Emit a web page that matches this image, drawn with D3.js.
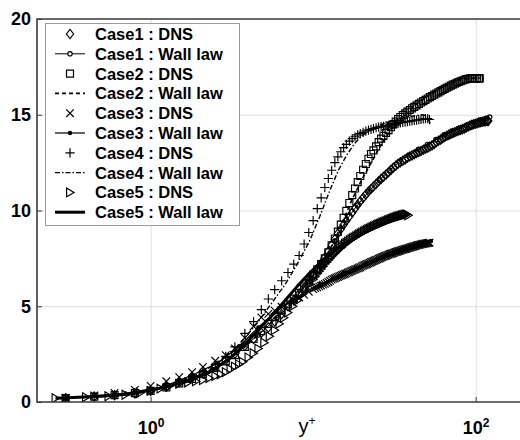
<!DOCTYPE html>
<html>
<head>
<meta charset="utf-8">
<script src="https://cdn.jsdelivr.net/npm/d3@7/dist/d3.min.js"></script>
<style>
  body { margin: 0; background: #fff; }
  svg { display: block; font-family: "Liberation Sans", Arial, Helvetica, sans-serif; }
</style>
</head>
<body>
<svg id="chart" width="520" height="440"></svg>
<script>
// ---- Mean velocity profiles u+ against y+ ----
const legendLabels = [
  "Case1 : DNS", "Case1 : Wall law",
  "Case2 : DNS", "Case2 : Wall law",
  "Case3 : DNS", "Case3 : Wall law",
  "Case4 : DNS", "Case4 : Wall law",
  "Case5 : DNS", "Case5 : Wall law"
];
const yTicks = [0, 5, 10, 15, 20];
const xTicks = [1, 100];
const xLabel = "y";

// Case 1
const case1DnsYp = [0.3, 0.45, 0.6, 0.8, 1.0, 1.25, 1.5, 1.8, 2.1, 2.5, 2.9, 3.3, 3.8, 4.3, 4.8, 5.3, 5.8, 6.4, 7.0, 7.6, 8.2, 8.8, 9.4, 10.0, 10.6, 11.2, 11.8, 12.4, 13.0, 13.6, 14.2, 14.8, 15.4, 16.0, 16.7, 17.4, 18.1, 18.8, 19.5, 20.3, 21.1, 21.9, 22.7, 23.5, 24.4, 25.3, 26.2, 27.1, 28.1, 29.1, 30.1, 31.1, 32.2, 33.3, 34.4, 35.6, 36.8, 38.0, 39.3, 40.6, 41.9, 43.3, 44.7, 46.1, 47.6, 49.1, 50.7, 52.3, 53.9, 55.6, 57.3, 59.0, 60.8, 62.6, 64.5, 66.4, 68.3, 70.3, 72.3, 74.4, 76.5, 78.6, 80.8, 83.0, 85.3, 87.6, 89.9, 92.3, 94.7, 97.1, 99.6, 102.1, 104.7, 107.3, 109.9, 112.6, 115.3, 118.0, 119.5];
const case1DnsU  = [0.2, 0.28, 0.35, 0.45, 0.57, 0.8, 1.03, 1.25, 1.49, 1.83, 2.18, 2.52, 2.93, 3.29, 3.61, 3.89, 4.2, 4.59, 5.0, 5.33, 5.65, 5.95, 6.28, 6.61, 6.94, 7.25, 7.55, 7.87, 8.2, 8.5, 8.8, 9.03, 9.26, 9.46, 9.69, 9.9, 10.11, 10.3, 10.48, 10.66, 10.83, 10.99, 11.12, 11.25, 11.39, 11.53, 11.65, 11.76, 11.88, 12.0, 12.12, 12.23, 12.34, 12.44, 12.52, 12.6, 12.67, 12.75, 12.82, 12.88, 12.94, 13.0, 13.06, 13.11, 13.17, 13.22, 13.28, 13.34, 13.4, 13.48, 13.56, 13.64, 13.7, 13.77, 13.84, 13.9, 13.95, 14.0, 14.05, 14.09, 14.14, 14.18, 14.21, 14.25, 14.29, 14.34, 14.39, 14.44, 14.47, 14.5, 14.53, 14.56, 14.59, 14.61, 14.63, 14.65, 14.66, 14.68, 14.68];
const case1WallYp = [0.3, 0.6, 1.0, 1.6, 2.4, 3.4, 4.6, 6.0, 7.6, 9.4, 11.4, 13.6, 16.0, 18.8, 22.0, 25.6, 29.6, 34.0, 39.0, 44.5, 50.5, 57.0, 64.0, 71.5, 79.5, 88.0, 97.0, 106.5, 116.0, 122.0];
const case1WallU  = [0.2, 0.36, 0.58, 1.1, 1.7, 2.6, 3.5, 4.4, 5.3, 6.3, 7.3, 8.4, 9.5, 10.3, 11.0, 11.6, 12.1, 12.55, 12.9, 13.2, 13.45, 13.7, 13.95, 14.15, 14.3, 14.45, 14.6, 14.72, 14.82, 14.88];

// Case 2
const case2DnsYp = [0.3, 0.45, 0.6, 0.8, 1.0, 1.25, 1.5, 1.8, 2.1, 2.5, 2.9, 3.3, 3.8, 4.3, 4.8, 5.3, 5.8, 6.4, 7.0, 7.6, 8.2, 8.8, 9.4, 10.0, 10.6, 11.2, 11.8, 12.4, 13.0, 13.6, 14.2, 14.8, 15.4, 16.0, 16.7, 17.4, 18.1, 18.8, 19.5, 20.3, 21.1, 21.9, 22.7, 23.5, 24.4, 25.3, 26.2, 27.1, 28.1, 29.1, 30.1, 31.1, 32.2, 33.3, 34.4, 35.6, 36.8, 38.0, 39.3, 40.6, 41.9, 43.3, 44.7, 46.1, 47.6, 49.1, 50.7, 52.3, 53.9, 55.6, 57.3, 59.0, 60.8, 62.6, 64.5, 66.4, 68.3, 70.3, 72.3, 74.4, 76.5, 78.6, 80.8, 83.0, 85.3, 87.6, 89.9, 92.3, 94.7, 97.1, 99.6, 102.1, 104.7, 106.0];
const case2DnsU  = [0.2, 0.28, 0.36, 0.46, 0.58, 0.76, 0.97, 1.21, 1.45, 1.79, 2.12, 2.45, 2.88, 3.3, 3.7, 4.08, 4.43, 4.8, 5.1, 5.4, 5.7, 6.03, 6.35, 6.65, 6.93, 7.2, 7.5, 7.82, 8.18, 8.54, 8.9, 9.26, 9.62, 9.98, 10.39, 10.8, 11.15, 11.48, 11.8, 12.13, 12.43, 12.7, 12.95, 13.14, 13.35, 13.57, 13.75, 13.9, 14.05, 14.2, 14.35, 14.5, 14.64, 14.77, 14.88, 14.98, 15.07, 15.16, 15.25, 15.33, 15.41, 15.49, 15.57, 15.64, 15.71, 15.78, 15.85, 15.92, 15.98, 16.05, 16.11, 16.17, 16.23, 16.29, 16.35, 16.41, 16.46, 16.52, 16.57, 16.62, 16.67, 16.71, 16.75, 16.79, 16.83, 16.86, 16.88, 16.9, 16.9, 16.9, 16.9, 16.9, 16.9, 16.9];
const case2WallYp = [0.3, 0.7, 1.2, 1.9, 2.8, 3.9, 5.2, 6.7, 8.4, 10.3, 12.4, 14.7, 17.2, 19.9, 22.8, 26.0, 29.5, 33.3, 37.4, 41.8, 46.6, 51.8, 57.4, 63.4, 69.8, 76.6, 83.8, 91.4, 99.0, 106.0];
const case2WallU  = [0.2, 0.4, 0.72, 1.3, 2.0, 2.95, 3.95, 4.85, 5.8, 6.75, 7.8, 9.1, 10.5, 11.6, 12.5, 13.4, 14.1, 14.7, 15.1, 15.45, 15.75, 16.05, 16.3, 16.5, 16.65, 16.78, 16.86, 16.9, 16.92, 16.92];

// Case 3
const case3DnsYp = [0.3, 0.45, 0.6, 0.8, 1.0, 1.25, 1.5, 1.8, 2.1, 2.5, 2.9, 3.3, 3.8, 4.3, 4.8, 5.3, 5.8, 6.4, 7.0, 7.6, 8.2, 8.8, 9.4, 10.0, 10.3, 10.6, 10.9, 11.2, 11.5, 11.8, 12.1, 12.4, 12.7, 13.0, 13.3, 13.6, 13.9, 14.2, 14.5, 14.8, 15.1, 15.4, 15.7, 16.0, 16.35, 16.7, 17.05, 17.4, 17.75, 18.1, 18.45, 18.8, 19.15, 19.5, 19.9, 20.3, 20.7, 21.1, 21.5, 21.9, 22.3, 22.7, 23.1, 23.5, 23.95, 24.4, 24.85, 25.3, 25.75, 26.2, 26.65, 27.1, 27.6, 28.1, 28.6, 29.1, 29.6, 30.1, 30.6, 31.1, 31.65, 32.2, 32.75, 33.3, 33.85, 34.4, 35.0, 35.6, 36.2, 36.8, 37.4, 38.0, 38.65, 39.3, 39.95, 40.6, 41.25, 41.9, 42.6, 43.3, 44.0, 44.7, 45.4, 46.1, 46.85, 47.6, 48.35, 49.1, 49.9, 50.7, 51.35, 52.0];
const case3DnsU  = [0.22, 0.34, 0.47, 0.63, 0.84, 1.08, 1.3, 1.56, 1.83, 2.15, 2.45, 2.8, 3.35, 3.95, 4.42, 4.6, 4.77, 4.97, 5.15, 5.31, 5.46, 5.6, 5.76, 5.9, 5.95, 5.99, 6.04, 6.08, 6.13, 6.17, 6.22, 6.27, 6.33, 6.39, 6.43, 6.46, 6.5, 6.53, 6.57, 6.6, 6.63, 6.66, 6.69, 6.72, 6.76, 6.79, 6.83, 6.86, 6.89, 6.92, 6.95, 6.98, 7.01, 7.04, 7.08, 7.12, 7.15, 7.18, 7.21, 7.24, 7.27, 7.3, 7.33, 7.36, 7.39, 7.42, 7.45, 7.48, 7.51, 7.54, 7.57, 7.59, 7.62, 7.64, 7.67, 7.7, 7.72, 7.74, 7.76, 7.78, 7.81, 7.83, 7.85, 7.87, 7.89, 7.91, 7.93, 7.95, 7.97, 7.99, 8.0, 8.02, 8.04, 8.06, 8.08, 8.1, 8.12, 8.13, 8.15, 8.17, 8.19, 8.2, 8.22, 8.23, 8.25, 8.26, 8.27, 8.28, 8.29, 8.3, 8.31, 8.32];
const case3WallYp = [0.3, 0.7, 1.2, 1.8, 2.6, 3.5, 4.6, 5.9, 7.4, 9.1, 11.0, 13.2, 15.6, 18.3, 21.3, 24.6, 28.2, 32.1, 36.3, 40.8, 45.6, 50.0, 53.0];
const case3WallU  = [0.2, 0.45, 0.8, 1.4, 2.05, 2.9, 3.9, 4.7, 5.3, 5.8, 6.15, 6.45, 6.75, 7.0, 7.25, 7.45, 7.65, 7.85, 8.0, 8.15, 8.28, 8.36, 8.4];

// Case 4
const case4DnsYp = [0.3, 0.45, 0.6, 0.8, 1.0, 1.25, 1.5, 1.8, 2.1, 2.5, 2.9, 3.3, 3.8, 4.3, 4.8, 5.3, 5.8, 6.4, 7.0, 7.6, 8.2, 8.8, 9.4, 10.0, 10.6, 11.2, 11.8, 12.4, 13.0, 13.6, 14.2, 14.8, 15.4, 16.0, 16.7, 17.4, 18.1, 18.8, 19.5, 20.3, 21.1, 21.9, 22.7, 23.5, 24.4, 25.3, 26.2, 27.1, 28.1, 29.1, 30.1, 31.1, 32.2, 33.3, 34.4, 35.6, 36.8, 38.0, 39.3, 40.6, 41.9, 43.3, 44.7, 46.1, 47.6, 49.1, 50.7, 52.0];
const case4DnsU  = [0.22, 0.3, 0.38, 0.46, 0.58, 0.8, 1.05, 1.33, 1.59, 1.95, 2.38, 2.88, 3.58, 4.2, 4.82, 5.38, 5.87, 6.33, 6.76, 7.2, 7.65, 8.25, 8.85, 9.47, 10.1, 10.66, 11.2, 11.67, 12.1, 12.5, 12.8, 13.07, 13.28, 13.45, 13.62, 13.75, 13.85, 13.95, 14.02, 14.08, 14.15, 14.2, 14.24, 14.28, 14.32, 14.35, 14.38, 14.4, 14.43, 14.45, 14.48, 14.5, 14.53, 14.55, 14.58, 14.6, 14.62, 14.64, 14.66, 14.68, 14.7, 14.72, 14.74, 14.76, 14.78, 14.8, 14.8, 14.75];
const case4WallYp = [0.3, 0.7, 1.2, 1.8, 2.6, 3.5, 4.5, 5.6, 6.8, 8.1, 9.5, 11.0, 12.6, 14.3, 16.1, 18.0, 20.0, 22.5, 25.5, 29.0, 33.0, 37.5, 42.0, 46.5, 50.0, 52.5];
const case4WallU  = [0.2, 0.45, 0.75, 1.3, 2.05, 3.0, 4.1, 5.2, 6.2, 7.3, 8.4, 9.7, 11.0, 12.1, 12.9, 13.5, 13.9, 14.2, 14.45, 14.62, 14.75, 14.86, 14.95, 15.0, 14.95, 14.55];

// Case 5
const case5DnsYp = [0.26, 0.4, 0.55, 0.7, 0.86, 1.0, 1.15, 1.3, 1.5, 1.7, 1.9, 2.1, 2.3, 2.5, 2.7, 2.9, 3.1, 3.3, 3.5, 3.7, 4.0, 4.3, 4.6, 5.0, 5.4, 5.8, 6.2, 6.6, 7.0, 7.5, 8.0, 8.5, 9.0, 9.5, 10.0, 10.3, 10.6, 10.9, 11.2, 11.5, 11.8, 12.1, 12.4, 12.7, 13.0, 13.3, 13.6, 13.95, 14.3, 14.65, 15.0, 15.35, 15.7, 16.05, 16.4, 16.8, 17.2, 17.6, 18.0, 18.4, 18.8, 19.2, 19.6, 20.05, 20.5, 20.95, 21.4, 21.85, 22.3, 22.75, 23.2, 23.7, 24.2, 24.7, 25.2, 25.7, 26.2, 26.7, 27.2, 27.75, 28.3, 28.85, 29.4, 29.95, 30.5, 31.05, 31.6, 32.2, 32.8, 33.4, 34.0, 34.6, 35.2, 35.8, 36.4, 37.05, 37.7, 38.5];
const case5DnsU  = [0.2, 0.25, 0.3, 0.38, 0.47, 0.58, 0.7, 0.82, 0.95, 1.02, 1.08, 1.15, 1.25, 1.35, 1.45, 1.56, 1.71, 1.85, 1.97, 2.1, 2.33, 2.55, 2.79, 3.1, 3.43, 3.75, 4.08, 4.4, 4.67, 5.0, 5.3, 5.6, 5.88, 6.15, 6.4, 6.55, 6.7, 6.83, 6.95, 7.08, 7.2, 7.3, 7.4, 7.5, 7.6, 7.69, 7.77, 7.86, 7.95, 8.03, 8.1, 8.18, 8.25, 8.31, 8.37, 8.44, 8.5, 8.55, 8.6, 8.65, 8.7, 8.75, 8.8, 8.85, 8.9, 8.94, 8.98, 9.02, 9.05, 9.09, 9.13, 9.17, 9.2, 9.24, 9.27, 9.3, 9.33, 9.36, 9.39, 9.42, 9.45, 9.48, 9.51, 9.54, 9.56, 9.59, 9.61, 9.64, 9.66, 9.68, 9.7, 9.72, 9.74, 9.76, 9.77, 9.79, 9.8, 9.75];
const case5WallYp = [0.26, 0.5, 0.8, 1.2, 1.7, 2.3, 3.0, 3.8, 4.7, 5.7, 6.8, 8.0, 9.3, 10.7, 12.2, 13.8, 15.5, 17.3, 19.3, 21.5, 23.9, 26.5, 29.3, 32.3, 35.5, 38.5];
const case5WallU  = [0.2, 0.3, 0.45, 0.75, 1.1, 1.55, 2.2, 3.0, 3.85, 4.6, 5.35, 6.05, 6.65, 7.15, 7.6, 7.95, 8.25, 8.5, 8.72, 8.92, 9.1, 9.27, 9.43, 9.58, 9.72, 9.85];

// ---- drawing ----
const svg = d3.select("#chart");
const x0 = 37, x1 = 524.6, yTop = 19, yBot = 402;
const x = d3.scaleLog().domain([0.2, 200]).range([x0, x1]);
const y = d3.scaleLinear().domain([0, 20]).range([yBot, yTop]);

const zip = (a, b) => a.map((v, i) => [v, b[i]]);

const markerPaths = {
  diamond: "M0,-4.6L3.6,0L0,4.6L-3.6,0Z",
  square: "M-3.5,-3.5H3.5V3.5H-3.5Z",
  cross: "M-3.8,-3.8L3.8,3.8M-3.8,3.8L3.8,-3.8",
  plus: "M-4.6,0H4.6M0,-4.6V4.6",
  triangle: "M-3.4,-4.4L4,0L-3.4,4.4Z",
  circle: "M2.2,0A2.2,2.2 0 1 1 -2.2,0A2.2,2.2 0 1 1 2.2,0Z",
  dot: "M1.6,0A1.6,1.6 0 1 1 -1.6,0A1.6,1.6 0 1 1 1.6,0Z"
};

const series = [
  { label: legendLabels[0], pts: zip(case1DnsYp, case1DnsU), marker: "diamond" },
  { label: legendLabels[1], pts: zip(case1WallYp, case1WallU), line: { w: 1 }, marker: "circle" },
  { label: legendLabels[2], pts: zip(case2DnsYp, case2DnsU), marker: "square" },
  { label: legendLabels[3], pts: zip(case2WallYp, case2WallU), line: { w: 1.6, dash: "4,3" } },
  { label: legendLabels[4], pts: zip(case3DnsYp, case3DnsU), marker: "cross" },
  { label: legendLabels[5], pts: zip(case3WallYp, case3WallU), line: { w: 1.2 }, marker: "dot" },
  { label: legendLabels[6], pts: zip(case4DnsYp, case4DnsU), marker: "plus" },
  { label: legendLabels[7], pts: zip(case4WallYp, case4WallU), line: { w: 1.4, dash: "5,2,1.5,2" } },
  { label: legendLabels[8], pts: zip(case5DnsYp, case5DnsU), marker: "triangle" },
  { label: legendLabels[9], pts: zip(case5WallYp, case5WallU), line: { w: 3 } }
];

// grid lines
svg.append("g")
  .attr("transform", `translate(${x0},0)`)
  .call(d3.axisLeft(y).tickValues([5, 10, 15]).tickSize(-(x1 - x0)).tickFormat(""))
  .call(g => g.select(".domain").remove())
  .call(g => g.selectAll("line").attr("stroke", "#dedede").attr("stroke-width", 1));
svg.append("g")
  .attr("transform", `translate(0,${yBot})`)
  .call(d3.axisBottom(x).tickValues(xTicks).tickSize(-(yBot - yTop)).tickFormat(""))
  .call(g => g.select(".domain").remove())
  .call(g => g.selectAll("line").attr("stroke", "#dedede").attr("stroke-width", 1));

// data
svg.append("clipPath").attr("id", "plotClip")
  .append("rect").attr("x", x0).attr("y", yTop).attr("width", x1 - x0).attr("height", yBot - yTop);
const dataG = svg.append("g").attr("clip-path", "url(#plotClip)");
const lineGen = d3.line().x(d => x(d[0])).y(d => y(d[1]));

series.filter(s => s.line).forEach(s => {
  dataG.append("path")
    .attr("d", lineGen(s.pts))
    .attr("fill", "none").attr("stroke", "#000")
    .attr("stroke-width", s.line.w)
    .attr("stroke-dasharray", s.line.dash || null)
    .attr("stroke-linejoin", "round");
});
series.filter(s => s.marker).forEach(s => {
  const filled = s.marker === "dot";
  dataG.append("g").selectAll("path").data(s.pts).join("path")
    .attr("transform", d => `translate(${x(d[0])},${y(d[1])})`)
    .attr("d", markerPaths[s.marker])
    .attr("fill", filled ? "#000" : "none")
    .attr("stroke", "#000").attr("stroke-width", 1.15);
});

// frame
svg.append("path")
  .attr("d", `M${x1},${yTop}H${x0}V${yBot}H${x1}`)
  .attr("fill", "none").attr("stroke", "#3a3a3a").attr("stroke-width", 1.6);

// y axis ticks + labels
svg.append("g")
  .attr("transform", `translate(${x0},0)`)
  .call(d3.axisLeft(y).tickValues(yTicks).tickSize(-5).tickPadding(6))
  .call(g => g.select(".domain").remove())
  .call(g => g.selectAll("line").attr("stroke", "#3a3a3a"))
  .call(g => g.selectAll("text")
    .attr("fill", "#000").attr("font-size", 18).attr("font-weight", "bold")
    .attr("font-family", "Liberation Sans, Arial, sans-serif"));

// x axis ticks + labels (powers of ten)
svg.append("g")
  .attr("transform", `translate(0,${yBot})`)
  .call(d3.axisBottom(x).tickValues(xTicks).tickSize(-5).tickPadding(19).tickFormat(() => ""))
  .call(g => g.select(".domain").remove())
  .call(g => g.selectAll("line").attr("stroke", "#3a3a3a"))
  .call(g => g.selectAll(".tick text")
    .attr("fill", "#000").attr("font-size", 18).attr("font-weight", "bold")
    .attr("font-family", "Liberation Sans, Arial, sans-serif")
    .each(function (d) {
      const t = d3.select(this);
      t.append("tspan").text("10");
      t.append("tspan").attr("dy", -7).attr("font-size", 12).text(Math.round(Math.log10(d)));
    }));

// x label
const xl = svg.append("text")
  .attr("x", 307).attr("y", 433)
  .attr("text-anchor", "middle")
  .attr("font-size", 20).attr("fill", "#000")
  .attr("font-family", "Liberation Sans, Arial, sans-serif");
xl.append("tspan").text(xLabel);
xl.append("tspan").attr("dy", -8).attr("font-size", 12).text("+");

// legend
const leg = svg.append("g");
leg.append("rect")
  .attr("x", 45.5).attr("y", 23.5).attr("width", 194).attr("height", 202)
  .attr("fill", "#fff").attr("stroke", "#9a9a9a").attr("stroke-width", 1);
series.forEach((s, i) => {
  const cy = 34 + i * 19.8;
  const row = leg.append("g").attr("transform", `translate(0,${cy})`);
  if (s.line) {
    row.append("line").attr("x1", 55).attr("x2", 85).attr("y1", 0).attr("y2", 0)
      .attr("stroke", "#000").attr("stroke-width", s.line.w)
      .attr("stroke-dasharray", s.line.dash || null);
  }
  if (s.marker) {
    row.append("path").attr("transform", "translate(70,0)")
      .attr("d", markerPaths[s.marker])
      .attr("fill", s.marker === "dot" ? "#000" : (s.marker === "circle" ? "#fff" : "none"))
      .attr("stroke", "#000").attr("stroke-width", 1.2);
  }
  row.append("text")
    .attr("x", 95).attr("y", 0).attr("dy", "0.36em")
    .attr("font-size", 16.5).attr("font-weight", "bold").attr("fill", "#000")
    .attr("font-family", "Liberation Sans, Arial, sans-serif")
    .text(s.label);
});
</script>
</body>
</html>
